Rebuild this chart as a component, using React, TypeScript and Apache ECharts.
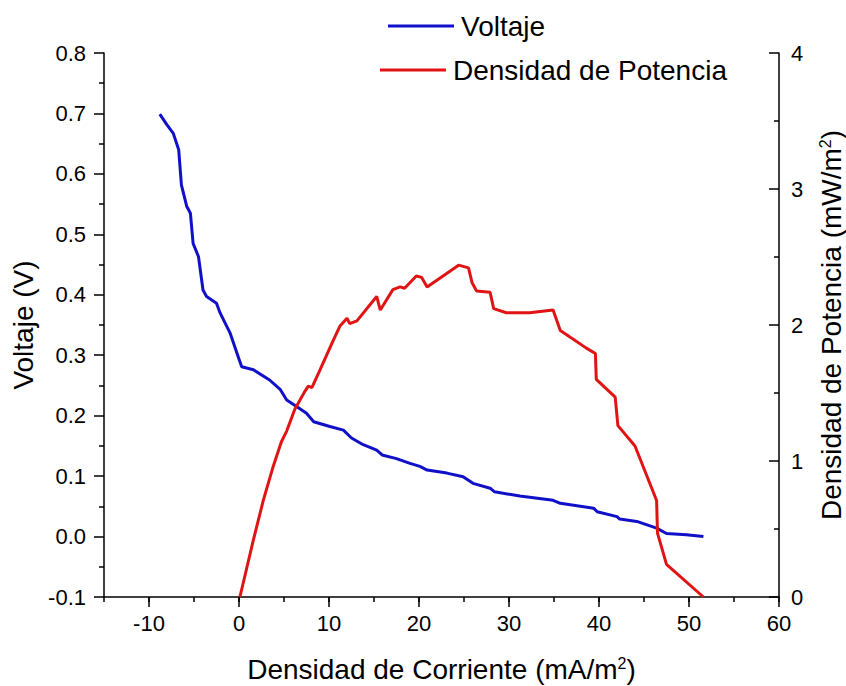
import React, { useEffect, useRef } from "react";
import * as echarts from "echarts";

const voltX = [-8.8, -8.0, -7.3, -6.7, -6.4, -5.8, -5.4, -5.1, -4.5, -4.0, -3.6, -2.5, -2.1, -1.0, -0.1, 0.3, 1.6, 3.4, 4.6, 5.3, 6.4, 7.5, 8.3, 10.1, 11.6, 12.5, 13.8, 15.3, 15.9, 17.5, 19.0, 20.1, 20.9, 23.1, 24.9, 26.0, 27.9, 28.4, 31.2, 34.9, 35.7, 39.4, 39.8, 42.0, 42.3, 44.2, 46.4, 47.5, 49.7, 51.6];
const voltY = [0.699, 0.681, 0.667, 0.640, 0.582, 0.546, 0.535, 0.485, 0.463, 0.408, 0.397, 0.386, 0.370, 0.337, 0.298, 0.281, 0.276, 0.259, 0.243, 0.226, 0.215, 0.204, 0.190, 0.182, 0.176, 0.163, 0.152, 0.143, 0.135, 0.129, 0.121, 0.116, 0.110, 0.105, 0.099, 0.088, 0.080, 0.074, 0.067, 0.060, 0.055, 0.047, 0.041, 0.033, 0.029, 0.025, 0.014, 0.005, 0.003, 0.000];

const powX = [0.1, 1.6, 2.7, 3.8, 4.7, 5.3, 6.2, 7.3, 7.7, 8.1, 9.0, 10.5, 11.2, 12.0, 12.3, 13.1, 15.3, 15.7, 17.1, 17.9, 18.4, 19.7, 20.3, 20.9, 24.4, 25.5, 25.9, 26.4, 27.9, 28.3, 29.7, 32.3, 34.9, 35.7, 38.6, 39.6, 39.7, 41.8, 42.1, 44.0, 46.4, 46.5, 47.5, 51.6];
const powY = [0, 0.42, 0.71, 0.96, 1.14, 1.22, 1.38, 1.51, 1.55, 1.54, 1.67, 1.89, 1.99, 2.05, 2.01, 2.03, 2.21, 2.11, 2.26, 2.28, 2.27, 2.36, 2.35, 2.28, 2.44, 2.42, 2.31, 2.25, 2.24, 2.12, 2.09, 2.09, 2.11, 1.96, 1.83, 1.79, 1.60, 1.47, 1.26, 1.11, 0.71, 0.47, 0.24, 0];

const xMajorTicks = [-10, 0, 10, 20, 30, 40, 50, 60];
const seriesNames = ["Voltaje", "Densidad de Potencia"];
const xTitle = "Densidad de Corriente (mA/m{sup|2})";
const yLeftTitle = "Voltaje (V)";
const yRightTitle = "Densidad de Potencia (mW/m{sup|2})";

const FONT = "Liberation Sans";
const BLUE = "#1010c8";
const RED = "#e01414";

export default function App() {
  const ref = useRef<HTMLDivElement>(null);
  useEffect(() => {
    if (!ref.current) return;
    const chart = echarts.init(ref.current, undefined, { renderer: "svg" });
    const axisLine = { show: true, onZero: false, lineStyle: { color: "#000", width: 1.5 } };
    const rich = { sup: { fontSize: 16, fontFamily: FONT, color: "#000", verticalAlign: "top" as const, padding: [0, 0, 10, 0] } };
    const nameStyle = { fontSize: 28, fontFamily: FONT, color: "#000", rich };
    const labelStyle = { fontSize: 22, fontFamily: FONT, color: "#000" };
    const legendText = { fontSize: 28, fontFamily: FONT, color: "#000", lineHeight: 32, padding: [0, 0, 0, 2] };
    chart.setOption({
      animation: false,
      backgroundColor: "#fff",
      grid: { left: 104, right: 67, top: 53, bottom: 89, containLabel: false, outerBoundsMode: "none" },
      legend: [
        {
          data: [seriesNames[0]], left: 388, top: 10, padding: 0, icon: "rect",
          itemWidth: 66, itemHeight: 3, itemGap: 0, textStyle: legendText,
        },
        {
          data: [seriesNames[1]], left: 380, top: 54, padding: 0, icon: "rect",
          itemWidth: 66, itemHeight: 3, itemGap: 0, textStyle: legendText,
        },
      ],
      xAxis: [
        {
          type: "value", min: -15, max: 60, position: "bottom",
          name: xTitle, nameLocation: "middle", nameGap: 58, nameTextStyle: nameStyle,
          axisLine,
          axisTick: { show: true, customValues: xMajorTicks, length: 10, lineStyle: { color: "#000", width: 1.5 } },
          axisLabel: { customValues: xMajorTicks, margin: 15, ...labelStyle },
          splitLine: { show: false },
        },
        {
          type: "value", min: -15, max: 60, interval: 5, position: "bottom",
          axisLine: { show: false, onZero: false },
          axisTick: { show: true, length: 5, lineStyle: { color: "#000", width: 1.5 } },
          axisLabel: { show: false },
          splitLine: { show: false },
        },
      ],
      yAxis: [
        {
          type: "value", min: -0.1, max: 0.8, interval: 0.1, position: "left",
          name: yLeftTitle, nameLocation: "middle", nameGap: 66, nameRotate: 90, nameTextStyle: nameStyle,
          axisLine,
          axisTick: { show: true, length: 10, lineStyle: { color: "#000", width: 1.5 } },
          minorTick: { show: true, splitNumber: 2, length: 5, lineStyle: { color: "#000", width: 1.5 } },
          axisLabel: { margin: 18, formatter: (v: number) => v.toFixed(1), ...labelStyle },
          splitLine: { show: false },
          minorSplitLine: { show: false },
        },
        {
          type: "value", min: 0, max: 4, interval: 1, position: "right",
          name: yRightTitle, nameLocation: "middle", nameGap: 38, nameRotate: 90, nameTextStyle: nameStyle,
          axisLine,
          axisTick: { show: true, inside: true, length: 10, lineStyle: { color: "#000", width: 1.5 } },
          minorTick: { show: true, splitNumber: 2, length: 5, lineStyle: { color: "#000", width: 1.5 } },
          axisLabel: { margin: 12, ...labelStyle },
          splitLine: { show: false },
          minorSplitLine: { show: false },
        },
      ],
      series: [
        {
          name: seriesNames[0], type: "line", xAxisIndex: 0, yAxisIndex: 0,
          data: voltX.map((x, i) => [x, voltY[i]]),
          showSymbol: false, symbol: "none", color: BLUE,
          lineStyle: { color: BLUE, width: 3 },
        },
        {
          name: seriesNames[1], type: "line", xAxisIndex: 0, yAxisIndex: 1,
          data: powX.map((x, i) => [x, powY[i]]),
          showSymbol: false, symbol: "none", color: RED,
          lineStyle: { color: RED, width: 3 },
        },
      ],
    });
    return () => chart.dispose();
  }, []);
  return <div ref={ref} style={{ width: 846, height: 686, position: "absolute", left: 0, top: 0 }} />;
}
